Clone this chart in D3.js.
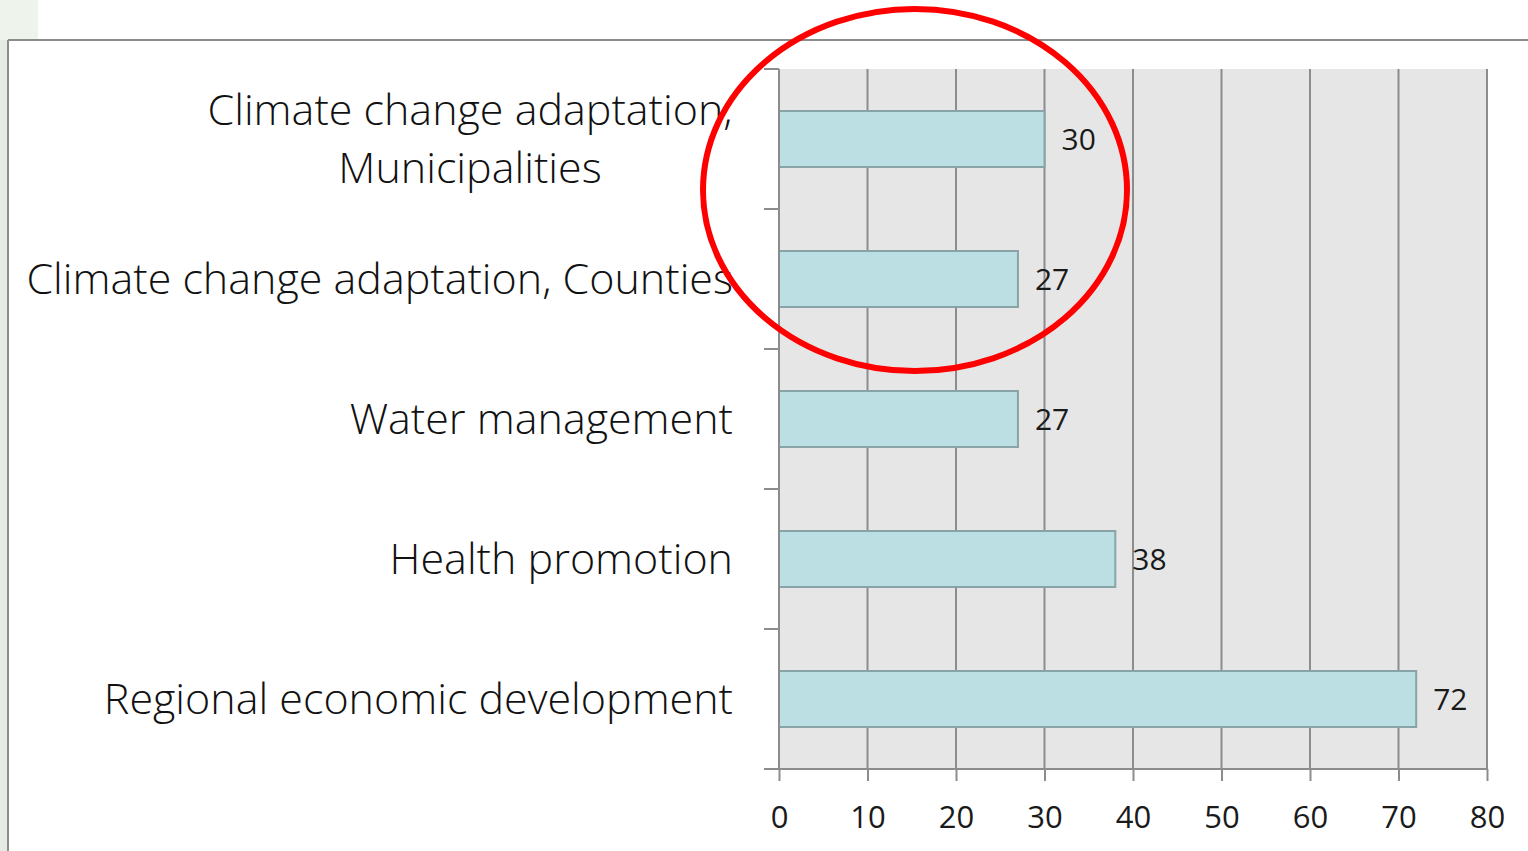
<!DOCTYPE html>
<html><head><meta charset="utf-8">
<script src="https://cdn.jsdelivr.net/npm/d3@7"></script>
<style>html,body{margin:0;padding:0;background:#fff;overflow:hidden}</style>
</head><body>
<svg id="c" width="1528" height="851"></svg>
<script>
const categories = [["Climate change adaptation,","Municipalities"],["Climate change adaptation, Counties"],["Water management"],["Health promotion"],["Regional economic development"]];
const values = [30, 27, 27, 38, 72];
const xTicks = [0,10,20,30,40,50,60,70,80];

const svg = d3.select("#c");
const font = "'Open Sans', sans-serif";
// background frame / slide remnants
svg.append("rect").attr("x",0).attr("y",0).attr("width",8).attr("height",851).attr("fill","#e3ebe2");
svg.append("rect").attr("x",0).attr("y",0).attr("width",38).attr("height",40).attr("fill","#eef3ec");
svg.append("line").attr("x1",8).attr("x2",1528).attr("y1",40).attr("y2",40).attr("stroke","#8c8c8c").attr("stroke-width",2);
svg.append("line").attr("x1",8).attr("x2",8).attr("y1",40).attr("y2",851).attr("stroke","#8c8c8c").attr("stroke-width",2);

const L=779,R=1487,T=69,B=769;
const x = d3.scaleLinear().domain([0,80]).range([L,R]);
const y = d3.scaleBand().domain(d3.range(categories.length)).range([T,B]).paddingInner(0.6).paddingOuter(0.3);
const yEdges = d3.scaleLinear().domain([0,categories.length]).range([T,B]);

svg.append("rect").attr("x",L).attr("y",T).attr("width",R-L).attr("height",B-T).attr("fill","#e6e6e6");
// gridlines
svg.append("g").selectAll("line").data(xTicks.slice(1)).join("line")
  .attr("x1",d=>x(d)).attr("x2",d=>x(d)).attr("y1",T).attr("y2",B)
  .attr("stroke","#8c8c8c").attr("stroke-width",2);
// bars
svg.append("g").selectAll("rect").data(values).join("rect")
  .attr("x",x(0)).attr("y",(d,i)=>y(i)).attr("width",d=>x(d)-x(0)).attr("height",y.bandwidth())
  .attr("fill","#bbdfe2").attr("stroke","#88a4a7").attr("stroke-width",2);
// value labels
svg.append("g").selectAll("text").data(values).join("text")
  .attr("x",d=>x(d)+17).attr("y",(d,i)=>y(i)+y.bandwidth()/2).attr("dy","0.36em")
  .attr("font-family",font).attr("font-size",30).attr("fill","#1a1a1a").text(d=>d);
// x axis
const xa = svg.append("g").attr("transform",`translate(0,${B})`)
  .call(d3.axisBottom(x).tickValues(xTicks).tickSize(12).tickPadding(25));
xa.select(".domain").remove();
xa.selectAll(".tick line").attr("stroke","#8c8c8c").attr("stroke-width",2);
xa.selectAll("text").attr("font-family",font).attr("font-size",31).attr("fill","#1a1a1a");
svg.append("line").attr("x1",764).attr("x2",R).attr("y1",B).attr("y2",B).attr("stroke","#8c8c8c").attr("stroke-width",2);
// y axis line and ticks
svg.append("line").attr("x1",L).attr("x2",L).attr("y1",T).attr("y2",B).attr("stroke","#8c8c8c").attr("stroke-width",2);
svg.append("g").selectAll("line").data(d3.range(categories.length+1)).join("line")
  .attr("x1",764).attr("x2",L).attr("y1",d=>yEdges(d)).attr("y2",d=>yEdges(d))
  .attr("stroke","#8c8c8c").attr("stroke-width",2);
// category labels
const cg = svg.append("g").selectAll("text").data(categories).join("text")
  .attr("font-family",font).attr("font-size",43).attr("font-weight",300).attr("fill","#111");
cg.each(function(lines,i){
  const cy = y(i)+y.bandwidth()/2;
  const t = d3.select(this);
  const n = lines.length, lh = 58;
  lines.forEach((ln,k)=>{
    t.append("tspan").attr("x", n>1 ? 470 : 733).attr("text-anchor", n>1?"middle":"end")
      .attr("y", cy + (k-(n-1)/2)*lh).attr("dy","0.35em").text(ln);
  });
});
// red ellipse annotation
svg.append("ellipse").attr("cx",915).attr("cy",190).attr("rx",212).attr("ry",181)
  .attr("fill","none").attr("stroke","#ff0000").attr("stroke-width",6);
</script>
</body></html>
